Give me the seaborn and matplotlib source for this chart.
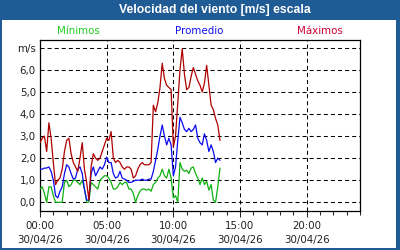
import numpy as np
import pandas as pd
import matplotlib
matplotlib.use("Agg")
import matplotlib.pyplot as plt
import matplotlib.dates as mdates
from matplotlib.patches import Rectangle
from matplotlib.ticker import FixedLocator
import seaborn as sns

# --- data (10-minute samples starting 30/04/26 00:00) ---
start_time = "2026-04-30 00:00"
n_samples = 82
maximos = [2.7, 2.9, 3.0, 2.3, 3.6, 2.9, 1.8, 0.8, 1.0, 1.1, 1.5, 2.3, 2.8, 2.9, 2.2, 1.8,
           1.6, 1.4, 2.0, 2.7, 1.5, 0.9, 0.1, 1.6, 2.2, 2.0, 1.9, 2.0, 2.3, 2.6, 2.9, 2.8,
           3.2, 2.0, 1.8, 1.9, 1.8, 1.6, 1.5, 1.6, 1.6, 1.5, 1.1, 1.2, 1.5, 1.7, 1.8, 1.7,
           1.7, 1.7, 1.8, 4.4, 4.1, 4.5, 5.2, 6.3, 5.6, 5.3, 5.2, 5.1, 2.5, 3.0, 4.5, 6.0,
           6.95, 5.8, 5.1, 5.2, 5.7, 6.1, 5.8, 5.5, 5.3, 5.0, 5.4, 6.2, 5.3, 4.4, 4.2, 3.8,
           3.5, 2.8]
promedio = [1.5, 1.5, 1.55, 1.55, 1.6, 1.4, 1.0, 0.3, 0.2, 0.5, 0.7, 1.3, 1.7, 1.6, 1.3, 1.05,
            1.1, 1.5, 1.6, 1.3, 0.6, 0.1, 0.1, 1.3, 1.6, 1.2, 1.4, 1.6, 1.5, 1.7, 2.05, 1.8,
            1.8, 1.3, 1.1, 1.15, 1.4, 1.1, 1.05, 1.0, 0.9, 0.9, 0.95, 1.0, 1.0, 1.0, 1.05, 1.0,
            1.0, 1.05, 1.05, 1.4, 1.9, 2.4, 3.0, 3.5, 3.0, 2.6, 2.9, 2.6, 1.2, 1.6, 2.8, 3.85,
            3.6, 3.3, 3.2, 3.35, 3.2, 3.3, 3.5, 2.9, 2.7, 2.6, 3.1, 2.8, 2.3, 2.6, 2.3, 1.8,
            2.0, 1.9]
minimos = [0.6, 0.7, 0.4, 0.0, 0.7, 0.7, 0.3, 0.0, 0.0, 0.0, 0.0, 0.9, 1.0, 0.7, 0.8, 1.0,
           1.0, 0.9, 0.8, 1.0, 0.6, 0.0, 0.0, 0.9, 0.8, 0.7, 0.6, 1.0, 1.1, 1.2, 1.2, 1.1,
           0.9, 0.6, 0.6, 0.7, 0.9, 0.8, 0.9, 0.9, 0.6, 0.6, 0.4, 0.0, 0.3, 0.5, 0.6, 0.6,
           0.55, 0.6, 0.5, 0.8, 0.9, 1.1, 1.2, 1.5, 1.2, 1.1, 1.5, 1.1, 0.2, 0.3, 0.0, 1.8,
           1.5, 1.4, 1.45, 1.3, 1.55, 1.6, 1.3, 1.1, 0.8, 1.1, 0.8, 0.95, 0.55, 0.8, 0.1, 0.0,
           0.7, 1.55]
series_names = ["Mínimos", "Promedio", "Máximos"]
y_ticks = [0, 1, 2, 3, 4, 5, 6, 7]
y_tick_labels = ["0,0", "1,0", "2,0", "3,0", "4,0", "5,0", "6,0", "m/s"]
x_tick_times = ["2026-04-30 00:00", "2026-04-30 05:00", "2026-04-30 10:00",
                "2026-04-30 15:00", "2026-04-30 20:00"]
title = "Velocidad del viento [m/s] escala"

times = pd.date_range(start_time, periods=n_samples, freq="10min")
df = pd.DataFrame({"time": times, "Mínimos": minimos, "Promedio": promedio, "Máximos": maximos})

sns.set_style("white")
plt.rcParams["font.family"] = ["DejaVu Sans"]
plt.rcParams["lines.scale_dashes"] = False

W, H = 400, 250
fig = plt.figure(figsize=(4, 2.5), dpi=100)
fig.patch.set_facecolor("white")

border = "#1f5b94"
fig.patches.append(Rectangle((0, 1 - 20 / H), 1, 20 / H, transform=fig.transFigure,
                             facecolor=border, edgecolor="none", zorder=0))
fig.patches.append(Rectangle((0, 0), 2 / W, 1, transform=fig.transFigure,
                             facecolor=border, edgecolor="none", zorder=0))
fig.patches.append(Rectangle((1 - 4 / W, 0), 4 / W, 1, transform=fig.transFigure,
                             facecolor=border, edgecolor="none", zorder=0))
fig.patches.append(Rectangle((0, 0), 1, 2 / H, transform=fig.transFigure,
                             facecolor=border, edgecolor="none", zorder=0))
fig.text(215 / W, 1 - 10.5 / H, title, color="white", fontweight="bold",
         fontsize=8.8, family=["Liberation Sans", "DejaVu Sans"], ha="center", va="center")

ax = fig.add_axes([40 / W, (H - 211) / H, 320 / W, 171 / H])
ax.set_facecolor("white")

colors = {"Mínimos": "#10b010", "Promedio": "#0a0af0", "Máximos": "#b00000"}
for name in series_names:
    sns.lineplot(data=df, x="time", y=name, ax=ax, color=colors[name], linewidth=0.9, zorder=3)

ax.set_xlim(pd.Timestamp("2026-04-30 00:00"), pd.Timestamp("2026-05-01 00:00"))
ax.set_ylim(-0.395, 7.35)
ax.set_yticks(y_ticks)
ax.set_yticklabels(y_tick_labels)
ax.xaxis.set_major_locator(FixedLocator(mdates.date2num(pd.to_datetime(x_tick_times))))
ax.xaxis.set_minor_locator(mdates.HourLocator())
ax.xaxis.set_major_formatter(mdates.DateFormatter("%H:%M\n%d/%m/%y"))
ax.set_xlabel("")
ax.set_ylabel("")

dash = (0, (2.9, 2.2))
ax.grid(True, which="major", axis="both", color="black", linestyle=dash, linewidth=0.75, zorder=1)
ax.set_axisbelow(True)
for s in ax.spines.values():
    s.set_visible(True)
    s.set_color("black")
    s.set_linewidth(0.9)

ax.tick_params(axis="y", which="both", length=0, pad=3, labelsize=7.4, labelcolor="#222222")
ax.tick_params(axis="x", which="major", length=4, width=0.75, direction="out", pad=3.5,
               labelsize=7.4, labelcolor="#222222", bottom=True)
ax.tick_params(axis="x", which="minor", length=3, width=0.75, direction="out", bottom=True)
for lab in ax.get_xticklabels():
    lab.set_linespacing(1.5)

leg_colors = {"Mínimos": "#22cc22", "Promedio": "#1010ee", "Máximos": "#cc0033"}
leg_x = {"Mínimos": 78, "Promedio": 199, "Máximos": 320}
for name in series_names:
    fig.text(leg_x[name] / W, 1 - 31 / H, name, color=leg_colors[name], fontsize=7.4,
             ha="center", va="center")

fig.savefig("out.png", dpi=100, facecolor="white")
